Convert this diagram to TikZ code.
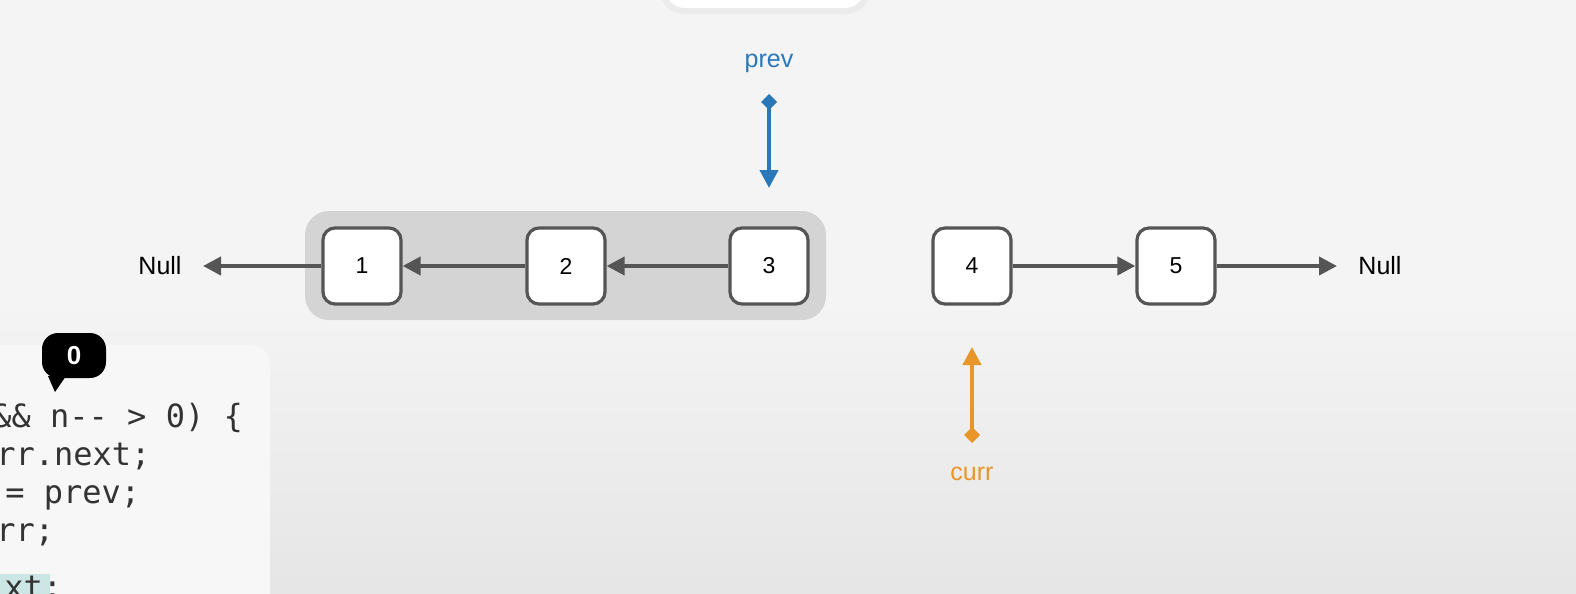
\documentclass[tikz,border=0pt]{standalone}
\usepackage{fontspec}
\setmainfont{Liberation Sans}
\newfontfamily\codefont{DejaVu Sans Mono}
\usetikzlibrary{arrows.meta,shadows}
\definecolor{bgc}{HTML}{F4F4F4}
\definecolor{edgec}{HTML}{555555}
\definecolor{prevc}{HTML}{2A78B8}
\definecolor{currc}{HTML}{E8962A}
\begin{document}
\begin{tikzpicture}[x=0.5pt,y=-0.5pt,
  box/.style={draw=edgec,line width=1.6pt,fill=white,rounded corners=6pt,minimum width=39pt,minimum height=38pt,font=\fontsize{11.5}{13}\selectfont,inner sep=0pt},
  lab/.style={font=\fontsize{12.5}{14}\selectfont,inner sep=1pt},
  link/.style={draw=edgec,line width=2pt,-{Triangle[length=9pt,width=9pt]}},
  ptr/.style={line width=2pt,{Diamond[length=8pt,width=8pt]}-{Triangle[length=9pt,width=9pt]}},
  code/.style={font=\codefont\fontsize{16}{18}\selectfont,text=black!80,anchor=base west,inner sep=0pt}]
\useasboundingbox (0,0) rectangle (1576,594);
\fill[bgc] (0,0) rectangle (1576,594);
\fill[top color=bgc,bottom color=black!10] (0,300) rectangle (1576,594);
% top white card
\fill[black!8,rounded corners=12pt] (660,-40) rectangle (870,14);
\fill[white,rounded corners=10pt] (665,-40) rectangle (865,8);
% highlight
\fill[black!17,rounded corners=12pt] (305,211) rectangle (826,320);
% nodes
\node[box] (n1) at (362,266) {1};
\node[box] (n2) at (566,266) {2};
\node[box] (n3) at (769,266) {3};
\node[box] (n4) at (972,266) {4};
\node[box] (n5) at (1176,266) {5};
\node[lab] (nl) at (160,266) {Null};
\node[lab] (nr) at (1380,266) {Null};
\coordinate (nlx) at (203,266);
\coordinate (nrx) at (1337,266);
\draw[link] (n1) -- (nlx);
\draw[link] (n2) -- (n1);
\draw[link] (n3) -- (n2);
\draw[link] (n4) -- (n5);
\draw[link] (n5) -- (nrx);
% pointers
\node[lab,text=prevc] (prev) at (769,63) {prev};
\coordinate (pa) at (769,94);
\coordinate (pb) at (769,188);
\draw[ptr,prevc] (pa) -- (pb);
\node[lab,text=currc] (curr) at (972,474) {curr};
\coordinate (ca) at (972,443);
\coordinate (cb) at (972,347);
\draw[ptr,currc] (ca) -- (cb);
% code panel
\begin{scope}
\clip (0,0) rectangle (1576,594);
\fill[black!3,rounded corners=10pt] (-20,345) rectangle (270,620);
\fill[teal!20] (0,574) rectangle (50,600);
\node[code] (c1) at (-8,427) {\&\& n-- > 0) \{};
\node[code] (c2) at (-4,465) {rr.next;};
\node[code] (c3) at (5,503) {= prev;};
\node[code] (c4) at (-4,541) {rr;};
\node[code] (c5) at (4,598) {xt;};
\end{scope}
% badge
\fill[black,rounded corners=8pt] (42,333) rectangle (106,378);
\fill[black] (48,376) -- (55,392) -- (66,376) -- cycle;
\node[font=\bfseries\fontsize{13}{15}\selectfont,text=white] (badge) at (74,356) {0};
\end{tikzpicture}
\end{document}
